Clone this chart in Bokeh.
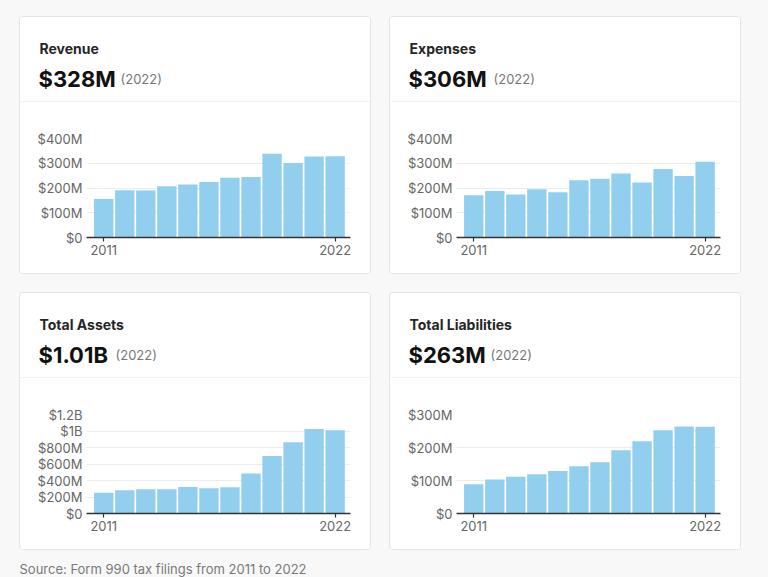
from bokeh.plotting import figure
from bokeh.models import Column, Row, Range1d, FixedTicker, Span, ColumnDataSource
from bokeh.embed import file_html
from bokeh.resources import INLINE
from bokeh.core.properties import value

# ---------------- data ----------------
years = ["2011", "2012", "2013", "2014", "2015", "2016",
         "2017", "2018", "2019", "2020", "2021", "2022"]
revenue = [156, 191, 190, 207, 214, 224, 241, 244, 338, 301, 327, 328]          # $M
expenses = [171, 188, 174, 195, 183, 231, 237, 259, 222, 277, 248, 306]         # $M
assets = [253, 282, 294, 294, 322, 306, 318, 486, 698, 865, 1024, 1010]         # $M
liabilities = [89, 103, 111, 119, 129, 143, 155, 192, 219, 252, 264, 263]       # $M

titles = ["Revenue", "Expenses", "Total Assets", "Total Liabilities"]
headlines = ["$328M", "$306M", "$1.01B", "$263M"]
headline_year = "(2022)"

rev_ticks = [0, 100, 200, 300, 400]
rev_labels = ["$0", "$100M", "$200M", "$300M", "$400M"]
exp_ticks = [0, 100, 200, 300, 400]
exp_labels = ["$0", "$100M", "$200M", "$300M", "$400M"]
ast_ticks = [0, 200, 400, 600, 800, 1000, 1200]
ast_labels = ["$0", "$200M", "$400M", "$600M", "$800M", "$1B", "$1.2B"]
lia_ticks = [0, 100, 200, 300]
lia_labels = ["$0", "$100M", "$200M", "$300M"]

source_note = "Source: Form 990 tax filings from 2011 to 2022"

# ---------------- style ----------------
FONT = "Inter"
PAGE_BG = "#f7f8f7"
BAR = "#92cfee"
GRID = "#ececec"
AXIS = "#333333"
TICK_TXT = "#666666"
BORDER = "#e4e4e4"

CARD_W = 350
HDR_H = 85
CHART_H = 171


def header(title, big, year_x):
    p = figure(width=CARD_W, height=HDR_H, x_range=Range1d(0, CARD_W), y_range=Range1d(HDR_H, 0),
               toolbar_location=None, output_backend="svg", min_border=0,
               x_axis_location=None, y_axis_location=None, frame_align=False)
    p.grid.visible = False
    p.outline_line_color = None
    p.background_fill_color = "white"
    p.border_fill_color = "white"
    p.text(x=[19], y=[31], text=[title], text_font=value(FONT), text_font_size="14px",
           text_color="#262626", text_baseline="alphabetic", text_font_style="bold")
    p.text(x=[18], y=[61], text=[big], text_font=value(FONT), text_font_size="22px",
           text_color="#111111", text_baseline="alphabetic", text_font_style="bold")
    p.text(x=[year_x], y=[61], text=[headline_year], text_font=value(FONT), text_font_size="13px",
           text_color="#777777", text_baseline="alphabetic")
    p.add_layout(Span(location=84.5, dimension="width", line_color=BORDER, line_width=1))
    return p


def chart(vals, ticks, labels):
    src = ColumnDataSource(dict(x=list(range(len(years))), top=vals, year=years))
    p = figure(width=CARD_W, height=CHART_H, x_range=Range1d(-0.82, 11.73),
               y_range=Range1d(0, ticks[-1]),
               min_border_left=66, min_border_right=20, min_border_top=36, min_border_bottom=36,
               toolbar_location=None, output_backend="svg", frame_align=False)
    p.vbar(x="x", top="top", width=0.92, source=src, color=BAR, line_color=None)
    p.outline_line_color = None
    p.background_fill_color = "white"
    p.border_fill_color = "white"

    p.xgrid.visible = False
    p.ygrid.ticker = FixedTicker(ticks=ticks)
    p.ygrid.grid_line_color = GRID
    p.ygrid.grid_line_width = 1

    ya = p.yaxis[0]
    ya.ticker = FixedTicker(ticks=ticks)
    ya.major_label_overrides = {t: l for t, l in zip(ticks, labels)}
    ya.axis_line_color = None
    ya.major_tick_line_color = None
    ya.minor_tick_line_color = None
    ya.major_tick_out = 0
    ya.major_tick_in = 0
    ya.major_label_standoff = 4
    ya.major_label_text_font = FONT
    ya.major_label_text_font_size = "13px"
    ya.major_label_text_color = TICK_TXT

    xa = p.xaxis[0]
    xa.ticker = FixedTicker(ticks=[0, len(years) - 1])
    xa.major_label_overrides = {0: years[0], len(years) - 1: years[-1]}
    xa.axis_line_color = AXIS
    xa.axis_line_width = 1.5
    xa.major_tick_line_color = AXIS
    xa.major_tick_line_width = 1.2
    xa.major_tick_out = 4
    xa.major_tick_in = 0
    xa.minor_tick_line_color = None
    xa.major_label_standoff = 3
    xa.major_label_text_font = FONT
    xa.major_label_text_font_size = "13px"
    xa.major_label_text_color = TICK_TXT
    return p


CARD_STYLE = {"border": "1px solid " + BORDER, "border-radius": "4px",
              "background-color": "white", "overflow": "hidden"}


def card(title, big, year_x, vals, ticks, labels):
    return Column(children=[header(title, big, year_x), chart(vals, ticks, labels)],
                  spacing=0, styles=CARD_STYLE)


c1 = card(titles[0], headlines[0], 100, revenue, rev_ticks, rev_labels)
c2 = card(titles[1], headlines[1], 103, expenses, exp_ticks, exp_labels)
c3 = card(titles[2], headlines[2], 95, assets, ast_ticks, ast_labels)
c4 = card(titles[3], headlines[3], 100, liabilities, lia_ticks, lia_labels)

row1 = Row(children=[c1, c2], spacing=18, margin=(16, 0, 0, 19))
row2 = Row(children=[c3, c4], spacing=18, margin=(18, 0, 0, 19))

sf = figure(width=768, height=27, x_range=Range1d(0, 768), y_range=Range1d(27, 0),
            toolbar_location=None, output_backend="svg", min_border=0,
            x_axis_location=None, y_axis_location=None, frame_align=False)
sf.grid.visible = False
sf.outline_line_color = None
sf.background_fill_color = PAGE_BG
sf.border_fill_color = PAGE_BG
sf.text(x=[19], y=[18.5], text=[source_note], text_font=value(FONT), text_font_size="13px",
        text_color="#7a7a7a", text_baseline="alphabetic")

page = Column(children=[row1, row2, sf], spacing=0,
              styles={"background-color": PAGE_BG})

open("out.html", "w").write(file_html(page, INLINE))
